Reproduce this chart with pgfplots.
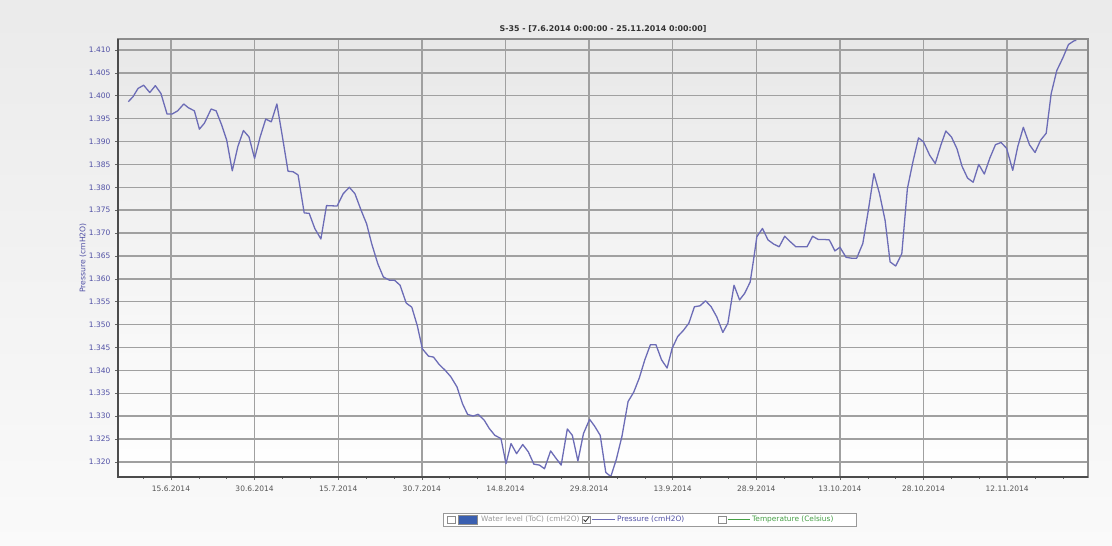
\documentclass[border=0pt]{standalone}
\usepackage{pgfplots}
\pgfplotsset{compat=1.18}
\usepackage{fontspec}
\setmainfont{DejaVu Sans}

\definecolor{pline}{RGB}{108,108,182}
\definecolor{ylab}{RGB}{80,80,165}
\definecolor{xlab}{RGB}{85,85,85}
\definecolor{gridc}{RGB}{160,160,160}
\definecolor{tempc}{RGB}{70,160,70}
\definecolor{wlc}{RGB}{58,95,176}

\newcommand{\smallf}{\fontsize{7.5}{8.5}\selectfont}
\newcommand{\legf}{\fontsize{7.4}{8}\selectfont}

% pressure S-35, day 0 = 7.6.2014
\pgfplotstableread{
d v
0.35 1.3987
1.2 1.3998
2.1 1.4016
3.1 1.4023
4.2 1.4007
5.2 1.4022
6.2 1.4005
7.3 1.3960
8.2 1.3960
9.2 1.3967
10.3 1.3982
11.1 1.3974
12.2 1.3967
13.1 1.3927
14.0 1.3940
15.2 1.3971
16.1 1.3967
17.1 1.3936
18.0 1.3903
19.0 1.3836
20.0 1.3889
21.0 1.3924
22.0 1.3910
23.0 1.3863
24.0 1.3910
25.0 1.3949
26.0 1.3943
27.0 1.3982
28.0 1.3910
29.0 1.3835
29.9 1.3834
30.8 1.3827
31.9 1.3744
32.8 1.3743
33.8 1.3710
34.9 1.3687
35.9 1.3760
37.8 1.3759
38.9 1.3786
40.0 1.3800
41.0 1.3786
42.1 1.3750
43.1 1.3720
44.0 1.3677
45.1 1.3633
46.1 1.3604
47.2 1.3597
48.1 1.3597
49.1 1.3586
50.2 1.3547
51.2 1.3538
52.2 1.3497
53.1 1.3447
54.2 1.3431
55.1 1.3429
56.1 1.3413
57.2 1.3400
58.2 1.3386
59.3 1.3364
60.3 1.3327
61.2 1.3304
62.2 1.3300
63.1 1.3304
64.2 1.3291
65.1 1.3273
66.1 1.3258
67.2 1.3251
68.1 1.3196
69.0 1.3240
70.0 1.3218
71.1 1.3238
72.1 1.3222
73.1 1.3195
74.1 1.3193
75.0 1.3185
76.1 1.3224
77.0 1.3209
78.0 1.3193
79.1 1.3272
80.0 1.3258
81.0 1.3202
82.0 1.3262
83.1 1.3293
84.0 1.3278
85.0 1.3258
86.0 1.3177
86.9 1.3168
87.9 1.3206
88.9 1.3256
90.0 1.3332
91.0 1.3352
92.0 1.3383
93.0 1.3423
94.0 1.3456
95.0 1.3456
96.0 1.3423
97.0 1.3405
97.9 1.3448
98.9 1.3474
99.9 1.3487
100.9 1.3503
101.9 1.3539
102.9 1.3541
103.9 1.3552
104.9 1.3539
105.9 1.3517
107.0 1.3483
107.9 1.3503
109.0 1.3586
110.0 1.3554
110.9 1.3568
111.9 1.3593
112.5 1.3641
113.1 1.3692
114.1 1.3710
115.1 1.3685
116.1 1.3676
117.1 1.3670
118.1 1.3693
119.1 1.3681
120.1 1.3670
121.1 1.3670
122.1 1.3670
123.1 1.3693
124.1 1.3686
125.1 1.3686
126.1 1.3685
127.1 1.3661
128.0 1.3669
129.1 1.3647
130.1 1.3645
131.0 1.3645
132.1 1.3677
133.1 1.3750
134.1 1.3830
135.1 1.3786
136.1 1.3728
137.0 1.3637
138.0 1.3628
139.1 1.3655
140.1 1.3797
141.1 1.3856
142.1 1.3908
143.0 1.3899
144.1 1.3870
145.1 1.3852
146.1 1.3892
147.0 1.3923
148.0 1.3910
149.0 1.3884
149.9 1.3846
150.9 1.3820
151.9 1.3811
152.9 1.3850
153.9 1.3829
154.9 1.3864
155.9 1.3893
156.9 1.3898
157.9 1.3885
159.0 1.3837
159.9 1.3889
160.9 1.3931
162.0 1.3893
163.0 1.3876
164.0 1.3903
165.0 1.3918
165.9 1.4005
166.9 1.4055
168.0 1.4083
169.0 1.4112
170.0 1.4120
170.4 1.4121
}\pressure

\begin{document}
\begin{tikzpicture}[x=1pt,y=1pt]
\useasboundingbox (0,0) rectangle (1112,546);
\shade[top color=black!8, bottom color=black!2] (0,0) rectangle (1112,546);

\begin{axis}[
    name=ax,
    at={(118pt,69pt)}, anchor=south west,
    scale only axis, width=970pt, height=438pt,
    xmin=-1.5, xmax=172.5,
    ymin=1.3167, ymax=1.4124,
    axis background/.style={shade, top color=black!9, bottom color=white},
    axis line style={draw=black!45, line width=1.2pt},
    grid=major,
    major grid style={draw=gridc, line width=1.4pt},
    xtick={8,23,38,53,68,83,98,113,128,143,158},
    xticklabels={15.6.2014,30.6.2014,15.7.2014,30.7.2014,14.8.2014,29.8.2014,13.9.2014,28.9.2014,13.10.2014,28.10.2014,12.11.2014},
    minor xtick={3,13,18,28,33,43,48,58,63,73,78,88,93,103,108,118,123,133,138,148,153,163,168},
    ytick={1.320,1.325,...,1.4101},
    xtick pos=bottom, ytick pos=left,
    tick align=outside,
    major tick length=3pt, minor tick length=2pt,
    tick style={draw=black!60, line width=0.6pt},
    /pgf/number format/.cd, fixed, fixed zerofill, precision=3, assume math mode=true,
    /pgfplots/.cd,
    ticklabel style={font=\smallf},
    yticklabel style={text=ylab, xshift=-1pt},
    xticklabel style={text=xlab, yshift=-2pt},
    ylabel={Pressure (cmH2O)},
    ylabel style={font=\fontsize{7.7}{8.5}\selectfont, text=ylab, at={(axis description cs:-0.036,0.5)}, anchor=center},
    title={\textbf{S-35 - [7.6.2014 0:00:00 - 25.11.2014 0:00:00]}},
    title style={font=\fontsize{7.9}{9}\selectfont, text=black!80, yshift=-3pt},
]
\addplot[pline, line width=1.3pt, line join=round, no markers] table[x=d, y=v] {\pressure};
\end{axis}
\draw[black!70, line width=1.8pt] (ax.north west) -- (ax.south west) -- (ax.south east);

% legend
\draw[black!40, fill=white, line width=0.8pt] (443,20) rectangle (856,33);
\draw[black!45, fill=white, line width=0.5pt] (447,23) rectangle (455,30);
\draw[black!45, fill=wlc, line width=0.5pt] (458,22) rectangle (477,31);
\node[anchor=west, inner sep=0pt, font=\legf, text=black!40] at (481,26.5) {Water level (ToC) (cmH2O)};
\draw[black!45, fill=white, line width=0.5pt] (582,23) rectangle (590,30);
\draw[black!80, line width=0.8pt] (583.5,26.5) -- (585.5,24.5) -- (589,29);
\draw[pline, line width=0.8pt] (592,26.5) -- (615,26.5);
\node[anchor=west, inner sep=0pt, font=\legf, text=ylab] at (617,26.5) {Pressure (cmH2O)};
\draw[black!45, fill=white, line width=0.5pt] (718,23) rectangle (726,30);
\draw[tempc, line width=0.8pt] (728,26.5) -- (750,26.5);
\node[anchor=west, inner sep=0pt, font=\legf, text=tempc] at (752,26.5) {Temperature (Celsius)};
\end{tikzpicture}
\end{document}
